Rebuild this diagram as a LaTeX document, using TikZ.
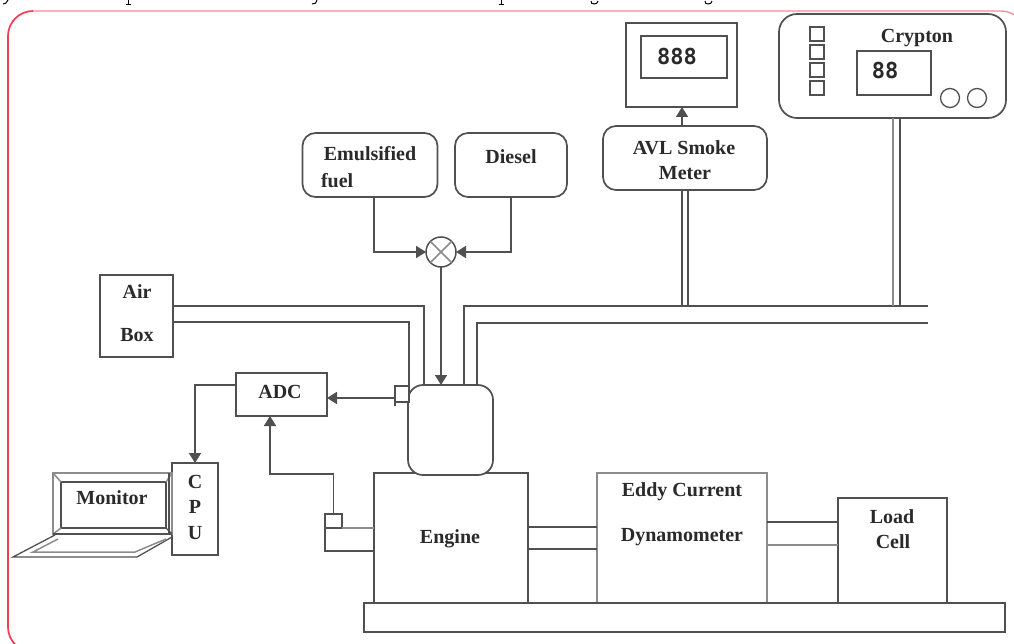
\documentclass[tikz,border=0pt]{standalone}
\usepackage{fontspec}
\setmainfont{Liberation Serif}
\newfontfamily\digitfont{DejaVu Sans Mono}
\usetikzlibrary{arrows.meta}
\definecolor{ink}{HTML}{505050}
\definecolor{pale}{HTML}{8C8C8C}
\definecolor{txt}{HTML}{2A2A2A}
\definecolor{framered}{HTML}{EE3F50}
\definecolor{framepink}{HTML}{F28C98}
\tikzset{
  x=1pt,y=-1pt,
  every node/.style={inner sep=0pt,outer sep=0pt},
  ln/.style={draw=ink,line width=1.7pt},
  lnpale/.style={draw=pale,line width=1.5pt},
  thin ln/.style={draw=ink,line width=1.3pt},
  box/.style={ln,fill=white,rectangle},
  rbox/.style={ln,fill=white,rectangle,rounded corners=13pt},
  lab/.style={text=txt,font=\fontsize{20}{20}\selectfont\bfseries},
  digits/.style={text=txt,font=\fontsize{22}{22}\selectfont\digitfont\bfseries},
  arr/.style={ln,-{Triangle[length=10pt,width=12pt]}},
  tail/.style={draw=black,line width=1pt},
}
\begin{document}
\begin{tikzpicture}
\useasboundingbox (0,0) rectangle (1014,644);
\begin{scope}
\clip (0,0) rectangle (1014,644);
% page frame
\draw[framepink,line width=1.3pt,rounded corners=25pt] (8,11) rectangle (1026,652);
\draw[framered,line width=1.6pt,rounded corners=25pt] (33,11) -- (8,11) -- (8,652) -- (33,652);
% tails of a cut-off line above the frame
\draw[tail] (8,0) .. controls (7,3) and (5,4) .. (3,4);
\draw[tail] (128,0) -- (128,4) (125.5,4.3) -- (130.5,4.3);
\draw[tail] (317,0) .. controls (317,3) and (315,4) .. (312,4);
\draw[tail] (501,0) -- (501,4) (498.5,4.3) -- (503.5,4.3);
\draw[tail] (591,1) .. controls (590,5) and (598,5) .. (598,1);
\draw[tail] (705,1) .. controls (704,5) and (712,5) .. (712,1);
\end{scope}

% bench and machines
\node[box,minimum width=170pt,minimum height=130pt,draw=pale] (eddy) at (682,538) {};
\node[box,minimum width=154pt,minimum height=130pt] (engine) at (451,538) {};
\node[box,minimum width=109pt,minimum height=105pt] (load) at (892.5,550.5) {};
\node[box,minimum width=641pt,minimum height=29pt] (bed) at (684.5,617.5) {};
\node[rbox,rounded corners=15pt,minimum width=85pt,minimum height=90pt] (chamber) at (450.5,430) {};
\node[lab] (enginelab) at (450,539) {Engine};
\node[lab] (eddylab1) at (682,492) {Eddy Current};
\node[lab] (eddylab2) at (682,537) {Dynamometer};
\node[lab] (loadlab1) at (892,517) {Load};
\node[lab] (loadlab2) at (893,542) {Cell};

% shafts
\draw[ln] ([yshift=11pt]engine.east) -- ([yshift=11pt]eddy.west);
\draw[ln] ([yshift=-11pt]engine.east) -- ([yshift=-11pt]eddy.west);
\draw[ln] ([yshift=28.5pt]load.west) -- ([yshift=28.5pt,xshift=-71pt]load.west);
\draw[lnpale] ([yshift=5.5pt]load.west) -- ([yshift=5.5pt,xshift=-71pt]load.west);

% fuel
\node[rbox,minimum width=135pt,minimum height=64pt] (emul) at (370,165) {};
\node[rbox,minimum width=112pt,minimum height=64pt] (diesel) at (511,165) {};
\node[lab] (emullab1) at (370,154) {Emulsified};
\node[lab,anchor=west] (emullab2) at (321,181) {fuel};
\node[lab] (diesellab) at (511,157) {Diesel};
\node[circle,draw=ink,line width=1.5pt,fill=white,minimum size=30pt] (mix) at (441,252) {};
\draw[lnpale] (mix.45) -- (mix.225);
\draw[lnpale] (mix.135) -- (mix.315);
\draw[arr] ([xshift=4pt]emul.south) |- (mix.west);
\draw[arr] (diesel.south) |- (mix.east);
\draw[arr] (mix.south) -- ([xshift=-9.5pt]chamber.north);

% air
\node[box,minimum width=73pt,minimum height=82pt] (air) at (136.5,316) {};
\node[lab] (airlab1) at (137,292) {Air};
\node[lab] (airlab2) at (137,335) {Box};
\node[thin ln,fill=white,minimum width=14pt,minimum height=16pt] (sensor) at (402,394) {};
\draw[ln] ([yshift=10pt]air.east) -| ([xshift=-26.5pt]chamber.north);
\draw[ln] ([yshift=-6pt]air.east) -| (sensor.north east);
\draw[thin ln] (sensor.south west) -- ++(0,4);

% exhaust
\coordinate (ex1) at (928,306);
\coordinate (ex2) at (928,323);
\draw[ln] ([xshift=13.5pt]chamber.north) |- (ex1);
\draw[ln] ([xshift=26.5pt]chamber.north) |- (ex2);

% smoke meter
\node[rbox,minimum width=164pt,minimum height=64pt] (avl) at (685,158) {};
\node[lab] (avllab1) at (684,148) {AVL Smoke};
\node[lab] (avllab2) at (685,173) {Meter};
\node[box,minimum width=111pt,minimum height=84pt] (smokemon) at (681.5,65) {};
\node[box,minimum width=86pt,minimum height=42pt] (smokedisp) at (684,57) {};
\node[digits] (smokedig) at (677,56) {888};
\draw[arr] ([xshift=-3pt]avl.north) -- ([xshift=0.5pt]smokemon.south);
\draw[ln] ([xshift=-3pt]avl.south) -- ++(0,116);
\draw[ln] ([xshift=3pt]avl.south) -- ++(0,116);

% crypton
\node[rbox,rounded corners=18pt,minimum width=227pt,minimum height=104pt] (crypton) at (892.5,66) {};
\node[lab] (cryptonlab) at (917,38) {Crypton};
\node[box,minimum width=74pt,minimum height=44pt] (cryptdisp) at (894,73) {};
\node[digits] (cryptdig) at (885,70) {88};
\node[thin ln,fill=white,minimum width=14pt,minimum height=14pt] (k1) at (817,34) {};
\node[thin ln,fill=white,minimum width=14pt,minimum height=14pt] (k2) at (817,52) {};
\node[thin ln,fill=white,minimum width=14pt,minimum height=14pt] (k3) at (817,70) {};
\node[thin ln,fill=white,minimum width=14pt,minimum height=14pt] (k4) at (817,88) {};
\node[circle,thin ln,fill=white,minimum size=19pt] (c1) at (950,98) {};
\node[circle,thin ln,fill=white,minimum size=19pt] (c2) at (977,98) {};
\draw[lnpale] ([xshift=0.5pt]crypton.south) -- ++(0,188);
\draw[ln] ([xshift=7.5pt]crypton.south) -- ++(0,188);

% data acquisition
\node[box,minimum width=91pt,minimum height=43pt] (adc) at (281.5,394.5) {};
\node[lab] (adclab) at (280,392) {ADC};
\draw[arr] ([yshift=-4pt]sensor.west) -- ([yshift=-3.5pt]adc.east);
\node[box,minimum width=46pt,minimum height=92pt] (cpu) at (195,509) {};
\node[lab] (cpuc) at (195,482) {C};
\node[lab] (cpup) at (195,507) {P};
\node[lab] (cpuu) at (195,533) {U};
\draw[arr] ([yshift=9.5pt]adc.west) -| (cpu.north);
\node[thin ln,fill=white,minimum width=17pt,minimum height=14pt] (es) at (333.5,521) {};
\draw[arr] (es.north) |- ([xshift=-11.5pt,yshift=-58pt]adc.south) -- ([xshift=-11.5pt]adc.south);
\draw[lnpale] (es.south east) -- ([yshift=10pt]engine.west);
\draw[ln] (es.south west) |- ([yshift=-13pt]engine.west);

% laptop
\node[draw=pale,line width=1.5pt,minimum width=119pt,minimum height=61pt] (screen) at (112.5,503.5) {};
\node[thin ln,draw=ink,minimum width=105pt,minimum height=46pt] (panel) at (113.5,505) {};
\draw[lnpale] (screen.north west) -- (panel.north west);
\draw[lnpale] (screen.south west) -- (panel.south west);
\draw[lnpale] (screen.north east) -- (panel.north east);
\draw[thin ln] (screen.south east) -- (panel.south east);
\draw[thin ln] ([xshift=-3pt]screen.north east) -- ([xshift=-3pt]screen.south east);
\draw[ln] (screen.south west) -- (screen.south east);
\node[lab] (monlab) at (112,498) {Monitor};
\draw[thin ln] (55,535) -- (13,557) -- (137,557) -- (172,537);
\draw[lnpale] (58,539) -- (33,552) -- (135,552) -- (166,539);
\end{tikzpicture}
\end{document}
